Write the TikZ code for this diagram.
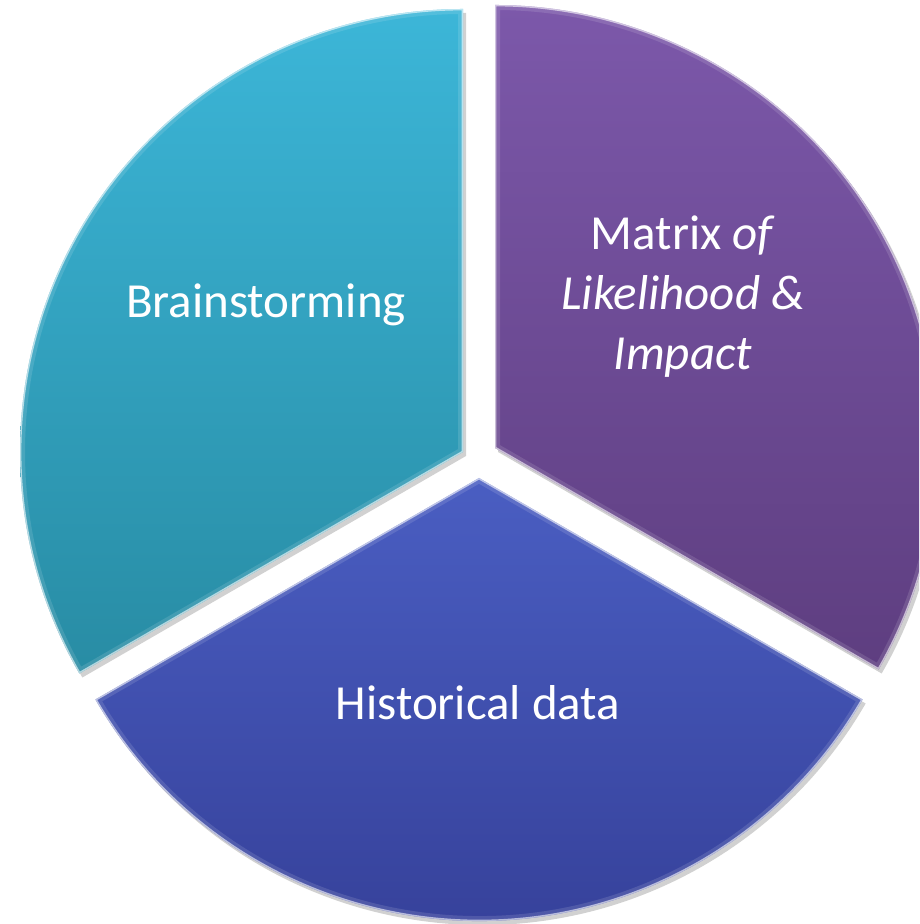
\documentclass[tikz,border=0pt]{standalone}
\usepackage{fontspec}
\setmainfont{Carlito}
\begin{document}
\begin{tikzpicture}[x=0.5pt,y=0.5pt,
  label text/.style={text=white, font=\fontsize{24.5pt}{30pt}\selectfont, align=center, inner sep=0pt},
  wedge shadow/.style={fill=black, opacity=0.18},
  bevel wide/.style={draw=white, line width=5pt, opacity=0.12, line join=round},
  bevel thin/.style={draw=white, line width=1.4pt, opacity=0.6, line join=round}]
\useasboundingbox (0,0) rectangle (919,924);
\clip (0,0) rectangle (919,924);
\def\rad{221.5pt}
% wedge tips
\coordinate (tealtip) at (463,472);
\coordinate (purpletip) at (495,476);
\coordinate (bluetip) at (479,446);

% soft shadows under the wedges
\foreach \c/\a/\b in {tealtip/90/210, purpletip/-30/90, bluetip/210/330}{
  \fill[wedge shadow] ([shift={(3,-4)}]\c) -- ++(\a:\rad) arc[start angle=\a, end angle=\b, radius=\rad] -- cycle;
}

% Brainstorming wedge
\shade[top color={rgb,255:red,60;green,182;blue,216}, bottom color={rgb,255:red,40;green,140;blue,164}]
  (tealtip) -- ++(90:\rad) arc[start angle=90, end angle=210, radius=\rad] -- cycle;
% Matrix wedge
\shade[top color={rgb,255:red,124;green,88;blue,170}, bottom color={rgb,255:red,94;green,62;blue,128}]
  (purpletip) -- ++(-30:\rad) arc[start angle=-30, end angle=90, radius=\rad] -- cycle;
% Historical data wedge
\shade[top color={rgb,255:red,74;green,94;blue,194}, bottom color={rgb,255:red,52;green,62;blue,150}]
  (bluetip) -- ++(210:\rad) arc[start angle=210, end angle=330, radius=\rad] -- cycle;

% bevelled rims
\foreach \c/\a/\b in {tealtip/90/210, purpletip/-30/90, bluetip/210/330}{
  \begin{scope}
    \clip (\c) -- ++(\a:\rad) arc[start angle=\a, end angle=\b, radius=\rad] -- cycle;
    \path[bevel wide] (\c) -- ++(\a:\rad) arc[start angle=\a, end angle=\b, radius=\rad] -- cycle;
    \path[bevel thin] (\c) -- ++(\a:\rad) arc[start angle=\a, end angle=\b, radius=\rad] -- cycle;
  \end{scope}
}

% labels
\node[label text] (brain) at (266,619) {Brainstorming};
\node[label text] (matrix) at (683,627) {Matrix \textit{of}\\\textit{Likelihood \&}\\\textit{Impact}};
\node[label text] (hist) at (478,221) {Historical data};
\end{tikzpicture}
\end{document}
